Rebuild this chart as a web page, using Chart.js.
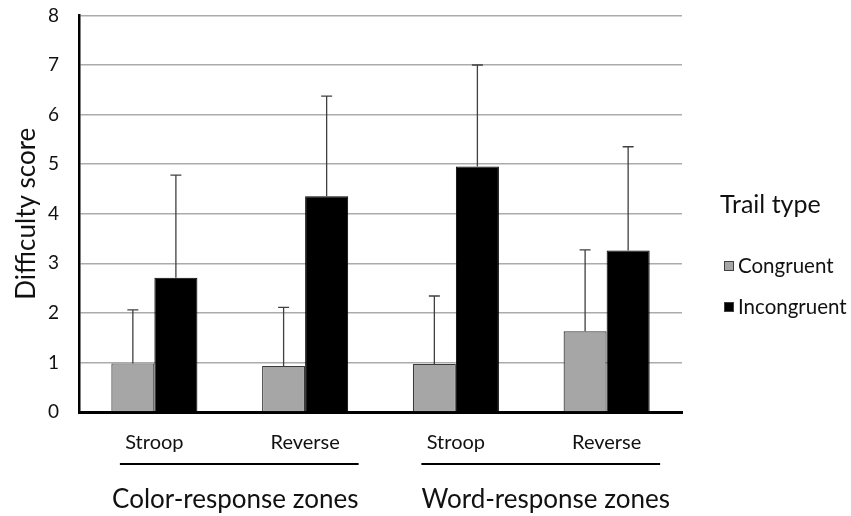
<!DOCTYPE html>
<html>
<head>
<meta charset="utf-8">
<script src="https://cdn.jsdelivr.net/npm/chart.js@4.4.1/dist/chart.umd.min.js"></script>
<style>
html,body{margin:0;padding:0;background:#fff;}
#wrap{width:851px;height:516px;}
</style>
</head>
<body>
<div id="wrap"><canvas id="chart" width="851" height="516"></canvas></div>
<script>
// values
const categories = ['Stroop', 'Reverse', 'Stroop', 'Reverse'];
const groupNames = ['Color-response zones', 'Word-response zones'];
const congruent = [0.98, 0.93, 0.97, 1.63];
const congruentErr = [1.08, 1.18, 1.37, 1.64];
const incongruent = [2.71, 4.35, 4.95, 3.26];
const incongruentErr = [2.07, 2.02, 2.05, 2.09];
const yTicks = [0, 1, 2, 3, 4, 5, 6, 7, 8];

const FONT = 'Lato, "Open Sans", sans-serif';

// upper error bars drawn from each dataset's err array
const errorBars = {
  id: 'errorBars',
  afterDatasetsDraw(chart) {
    const ctx = chart.ctx, y = chart.scales.y;
    ctx.save();
    ctx.strokeStyle = '#404040';
    ctx.lineWidth = 1.3;
    chart.data.datasets.forEach((ds, i) => {
      chart.getDatasetMeta(i).data.forEach((bar, j) => {
        const top = y.getPixelForValue(ds.data[j] + ds.err[j]);
        ctx.beginPath();
        ctx.moveTo(bar.x, bar.y);
        ctx.lineTo(bar.x, top);
        ctx.moveTo(bar.x - 5.5, top);
        ctx.lineTo(bar.x + 5.5, top);
        ctx.stroke();
      });
    });
    ctx.restore();
  }
};

// group brackets under the category labels + the legend on the right
const extras = {
  id: 'extras',
  afterDraw(chart) {
    const ctx = chart.ctx, x = chart.scales.x;
    ctx.save();
    ctx.strokeStyle = '#000';
    ctx.lineWidth = 2;
    ctx.fillStyle = '#111';
    ctx.textAlign = 'center';
    ctx.textBaseline = 'middle';
    ctx.font = '26px ' + FONT;
    groupNames.forEach((name, g) => {
      const x0 = x.getPixelForValue(g * 2) - 34.5;
      const x1 = x.getPixelForValue(g * 2 + 1) + 53.5;
      ctx.beginPath();
      ctx.moveTo(x0, 464);
      ctx.lineTo(x1, 464);
      ctx.stroke();
      ctx.fillText(name, (x0 + x1) / 2 + (g ? 5 : -4), 500);
    });

    // legend
    ctx.textAlign = 'left';
    ctx.font = '25px ' + FONT;
    ctx.fillText('Trail type', 720, 205);
    ctx.font = '20.5px ' + FONT;
    chart.data.datasets.forEach((ds, i) => {
      const cy = 266 + i * 41;
      ctx.fillStyle = ds.backgroundColor;
      ctx.fillRect(724, cy - 5, 10, 10);
      ctx.lineWidth = 1;
      ctx.strokeStyle = '#404040';
      ctx.strokeRect(724.5, cy - 4.5, 9, 9);
      ctx.fillStyle = '#111';
      ctx.fillText(ds.label, 738, cy);
    });
    ctx.restore();
  }
};

new Chart(document.getElementById('chart'), {
  type: 'bar',
  data: {
    labels: categories,
    datasets: [
      {label: 'Congruent', data: congruent, err: congruentErr,
       backgroundColor: '#a6a6a6', borderColor: '#3a3a3a', borderWidth: 1.2, borderSkipped: 'bottom'},
      {label: 'Incongruent', data: incongruent, err: incongruentErr,
       backgroundColor: '#000000', borderColor: '#000000', borderWidth: 1, borderSkipped: 'bottom'}
    ]
  },
  options: {
    responsive: false,
    animation: false,
    layout: {padding: {left: 0, right: 169, top: 14, bottom: 0}},
    datasets: {bar: {barPercentage: 1, categoryPercentage: 0.571}},
    plugins: {legend: {display: false}, tooltip: {enabled: false}},
    scales: {
      x: {
        afterFit(s) { s.height = 104; },
        grid: {display: false, drawTicks: false},
        border: {color: '#000', width: 3},
        ticks: {color: '#111', padding: 19, font: {family: FONT, size: 20}}
      },
      y: {
        min: 0, max: 8,
        afterFit(s) { s.width = 79; },
        afterBuildTicks(s) { s.ticks = yTicks.map(v => ({value: v})); },
        grid: {color: '#ababab', lineWidth: 1.5, drawTicks: true, tickLength: 16, tickColor: 'rgba(0,0,0,0)'},
        border: {color: '#000', width: 2.5},
        ticks: {color: '#111', padding: 4, font: {family: FONT, size: 19}},
        title: {display: true, text: 'Difficulty score', color: '#111',
                padding: {top: 11, bottom: 0}, font: {family: FONT, size: 26}}
      }
    }
  },
  plugins: [errorBars, extras]
});
</script>
</body>
</html>
